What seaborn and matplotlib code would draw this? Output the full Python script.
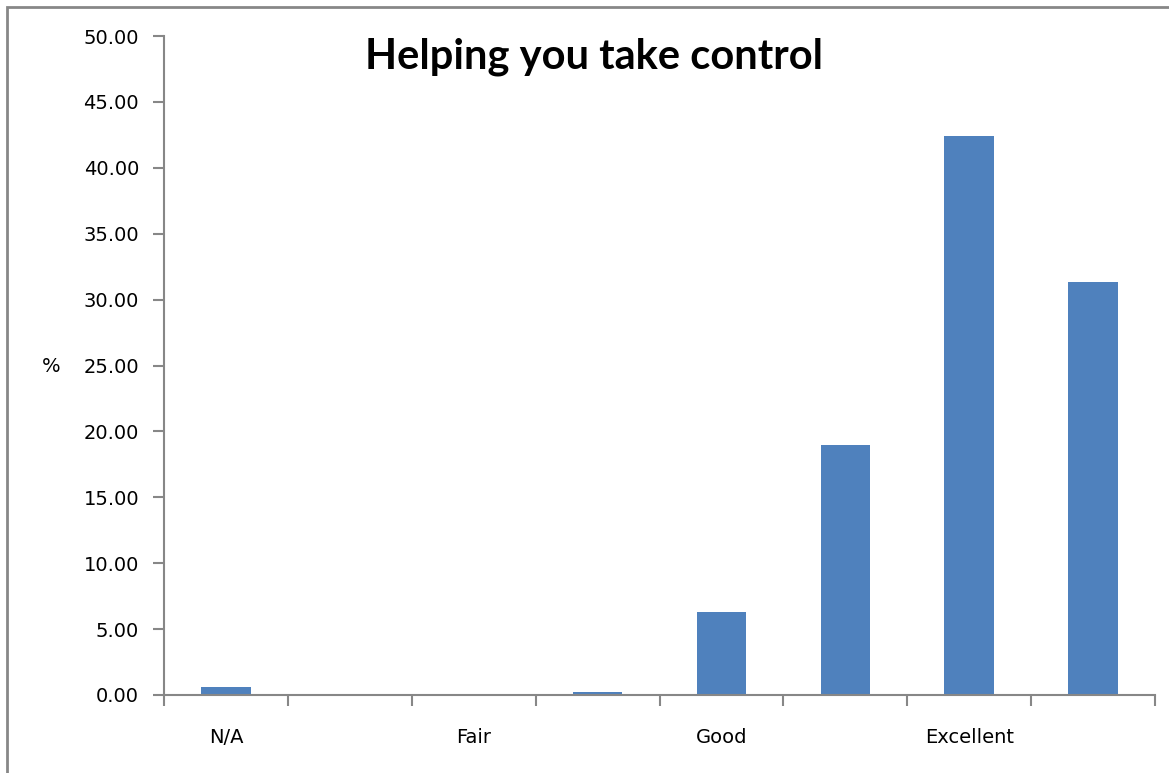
import numpy as np
import pandas as pd
import matplotlib
matplotlib.use("Agg")
import matplotlib.pyplot as plt
from matplotlib.patches import Rectangle
from matplotlib.ticker import FixedLocator, MultipleLocator
import seaborn as sns

# ── Data ──────────────────────────────────────────────────────────────────────
TITLE = "Helping you take control"
CATEGORY_LABELS = ["N/A", "", "Fair", "", "Good", "", "Excellent", ""]
PERCENTAGES = [0.6, 0.0, 0.0, 0.2, 6.3, 19.0, 42.4, 31.3]

BAR_COLOR = "#4F81BD"
AXIS_GRAY = "#878787"

sns.set_theme(style="white")
plt.rcParams["font.family"] = ["DejaVu Sans"]

df = pd.DataFrame({
    "pos": np.arange(len(PERCENTAGES)),
    "pct": PERCENTAGES,
})

fig = plt.figure(figsize=(11.69, 7.73), dpi=100)
ax = fig.add_axes([164 / 1169, 1 - 695 / 773, (1155 - 164) / 1169, (695 - 36) / 773])

sns.barplot(data=df, x="pos", y="pct", color=BAR_COLOR, width=0.4,
            saturation=1, edgecolor="none", ax=ax)

ax.set_xlim(-0.5, len(PERCENTAGES) - 0.5)
ax.set_ylim(0, 50)
ax.yaxis.set_major_locator(MultipleLocator(5))
ax.set_yticklabels([f"{v:.2f}" for v in ax.get_yticks()])

# labels at category centres, tick marks at category boundaries
ax.set_xticks(df["pos"])
ax.set_xticklabels(CATEGORY_LABELS)
ax.xaxis.set_minor_locator(FixedLocator(np.arange(-0.5, len(PERCENTAGES), 1.0)))
ax.tick_params(axis="x", which="major", length=0, pad=24, labelsize=14, labelcolor="black")
ax.tick_params(axis="x", which="minor", length=8, width=1.5, color=AXIS_GRAY, direction="out")
ax.tick_params(axis="y", length=8, width=1.5, color=AXIS_GRAY, direction="out",
               pad=10, labelsize=14, labelcolor="black")
ax.tick_params(bottom=True, left=True, which="both")

for side in ["top", "right"]:
    ax.spines[side].set_visible(False)
for side in ["left", "bottom"]:
    ax.spines[side].set_color(AXIS_GRAY)
    ax.spines[side].set_linewidth(1.5)

ax.set_xlabel("")
ax.set_ylabel("%", rotation=0, fontsize=14, color="black", va="center", ha="center")
ax.yaxis.set_label_coords(-0.114, 0.498)

fig.text(594 / 1169, 1 - 57 / 773, TITLE, ha="center", va="center", color="black",
         fontsize=30, fontweight="bold", family=["Lato", "DejaVu Sans"])

# chart frame (only top and left edges fall inside the image)
fig.patches.append(Rectangle((7 / 1169, -0.05), 1.2, 1 - 7 / 773 + 0.05,
                             transform=fig.transFigure, fill=False,
                             edgecolor=AXIS_GRAY, linewidth=2))

fig.savefig("out.png", dpi=100)
plt.close()
